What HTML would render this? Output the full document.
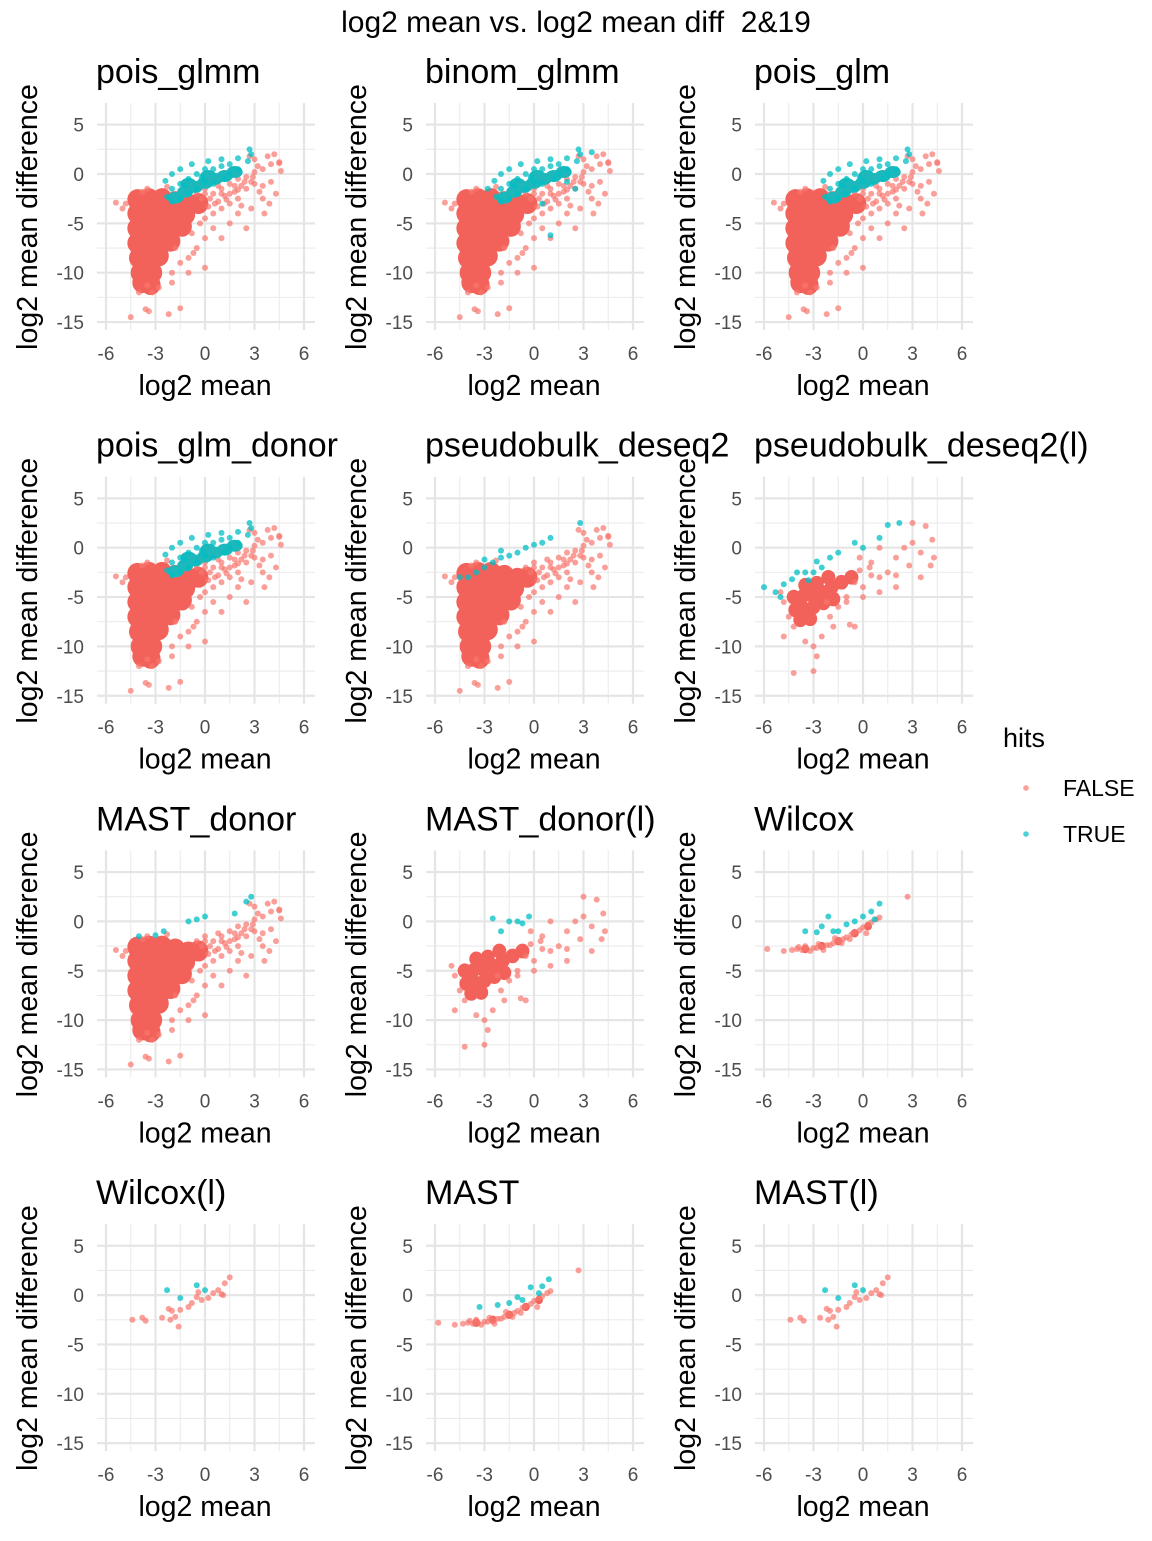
<!DOCTYPE html>
<html><head><meta charset="utf-8"><style>
body{margin:0;background:#fff}
svg text{font-family:"Liberation Sans",Arial,sans-serif}
</style></head><body>
<svg id="c" width="1152" height="1536" xmlns="http://www.w3.org/2000/svg">
<rect width="1152" height="1536" fill="#fff"/>
<text x="576" y="32" font-size="30" text-anchor="middle" fill="#000">log2 mean vs. log2 mean diff&#160;&#160;2&amp;19</text>
<text x="1003" y="747" font-size="27" fill="#000">hits</text>
<circle cx="1026" cy="788" r="2.8" fill="#F8766D" opacity="0.7"/>
<text x="1063" y="796" font-size="23" fill="#000">FALSE</text>
<circle cx="1026" cy="834" r="2.8" fill="#00BFC4" opacity="0.7"/>
<text x="1063" y="842" font-size="23" fill="#000">TRUE</text>
</svg>
<script>
const xTicks=[-6,-3,0,3,6];
const yTicks=[5,0,-5,-10,-15];
const panelNames=["pois_glmm","binom_glmm","pois_glm","pois_glm_donor","pseudobulk_deseq2","pseudobulk_deseq2(l)","MAST_donor","MAST_donor(l)","Wilcox","Wilcox(l)","MAST","MAST(l)"];
const coreA=[[-4.1,-2.6],[-3.4,-2.5],[-2.6,-2.5],[-1.8,-2.8],[-1,-3.1],[-0.4,-3],
 [-4.1,-4],[-3.4,-4],[-2.7,-4],[-1.9,-4],[-1.2,-4.1],
 [-4.1,-5.5],[-3.4,-5.5],[-2.7,-5.5],[-2,-5.4],[-1.4,-5.3],
 [-4.1,-7],[-3.4,-7],[-2.7,-7],[-2.1,-6.8],
 [-4,-8.5],[-3.4,-8.5],[-2.8,-8.3],
 [-3.9,-10],[-3.2,-10],[-3.8,-11],[-3.3,-11.2]];
const sparseA=[[-5.4,-2.9],[-5,-3.5],[-4.8,-3],[-3.5,-1.5],[-3.8,-1.8],[-2.3,-1.3],[0.5,-2],[1,-1.5],[1.5,-1],[2,-0.5],[2.5,-0.3],[3,0.2],[3.5,0.5],[4,1],[4.5,1.2],[3.8,1.8],[4.2,2],[3,1.5],[2.5,-1.5],[3,-1],[3.5,-1.2],[4,-0.8],[4.3,-2],[3.5,-2.5],[2,-2.5],[1.5,-3],[1,-3.5],[0.5,-4],[0,-4.5],[2,-4],[1.5,-5],[0.5,-5.5],[1,-6.5],[0,-6.5],[-0.5,-7.5],[-0.7,-8],[-1,-8.5],[0,-9.5],[-1.8,-7.5],[-1.5,-9],[-1,-10],[-2,-10],[-2.8,-11.5],[-3.2,-12],[-3.5,-11.3],[-4,-12],[-3.6,-13.7],[-3.4,-13.9],[-2.2,-14.2],[-1.5,-13.6],[-4.5,-14.5],[-2,-11],[2.8,-3.5],[3.6,-4],[2.2,-3.2],[1.2,-2.2],[0.2,-3.3],[-0.3,-5],[-0.8,-6],[4.6,0.3],[4.5,1.1],[2.7,1.8],[3.2,0.8],[1.8,-1.8],[3.9,-3],[2.5,-5.5],[0,-2],[0.8,-2.8],[1.5,-2],[2.2,-1.2],[2.8,-0.8],[-0.5,-2],[0,-1.5],[0.3,-2.5],[1,-2],[1.8,-1.2],[2.4,-0.8],[0.6,-3],[1.3,-2.6],[2,-1.6],[-0.2,-2.5],[0.8,-1.2],[2.9,-0.3],[3.3,-1.8]];
const trueGlmm=[[-2.3,-2.3],[-2,-1.5],[-1.5,-1],[-1,-0.5],[-0.5,0],[0,0.5],[0.5,0.5],[1,0.8],[1.5,1],[2,0.5],[2.7,2.5],[2.8,2],[2.6,1.3],[1.2,-0.5],[0.5,-1],[-0.5,-1.5],[-1,-2],[-1.5,-2.5],[-2,-2.8],[0,-0.8],[-1.2,-1.2],[-0.2,-0.3],[1.5,0],[1,1.5],[0.2,1.3],[-0.8,1],[-1.5,0.5],[-2,0],[-2.4,-0.7],[2,1.6]];
const trueGlmmCore=[[-1.8,-2.4],[-1.2,-1.8],[-0.6,-1.3],[0,-0.9],[0.6,-0.5],[1.2,-0.2],[1.8,0.2],[-1,-1],[0.2,-0.2]];
const trueBinomExtra=[[2.5,-1.5],[1,-6.2],[0.5,-3],[-2.8,-1.5],[3.5,2.2],[2,-0.8]];
const trueDeseq=[[-4.5,-3],[-4,-3],[-3.5,-2.5],[-3,-2],[-2.5,-1.5],[-2,-1],[-1.5,-0.8],[-1,-0.5],[-0.5,0],[0,0.3],[0.5,0.5],[1,1],[2.8,2.5],[-3,-1.2],[-2,-0.3]];
const trueMastDonor=[[-4,-1.5],[-2.5,-1],[-1,0],[0,0.5],[-0.5,0.2],[1.8,0.8],[2.8,2.5],[2.5,2],[-3,-1.4]];
const coreB=[[-4.2,-5],[-3.7,-5],[-3.1,-4.8],[-2.5,-4.5],[-1.9,-4],[-1.3,-3.5],[-0.7,-3],[-4.1,-6.3],[-3.6,-6.2],[-3,-6],[-2.4,-5.6],[-1.8,-5.2],[-3.8,-7.3],[-3.2,-7.2],[-3.5,-3.8],[-2.8,-3.6],[-2.1,-3]];
const sparseB=[[-5,-4.5],[-4.8,-5.5],[-4.5,-7],[-4.2,-8],[-4.8,-9],[-3.5,-9.5],[-4.2,-12.7],[-3,-10],[-2.5,-9],[-3,-12.5],[-2.8,-11],[-2,-7],[-1.5,-6],[-1,-5],[0,-4],[0,-5],[1,-3],[1.5,-2.5],[2,-1],[2.5,0],[3,0.5],[3,2.5],[3.8,2.2],[4.2,0.8],[4.3,-1],[3.5,-0.5],[2.8,-1.8],[2,-2.8],[1,-4.5],[-0.8,-7.8],[-0.5,-8],[0.5,-1.5],[1,0],[-0.2,-1],[2,-4],[3.5,-3],[4.1,-1.8],[-1,-5.5],[-1.8,-8],[-2.2,-5.5],[0.5,-2.8],[-0.2,-2.3],[0.4,-2],[-0.5,-3.5]];
const trueDeseqL=[[-6,-4],[-5.3,-4.5],[-5,-5],[-4.8,-3.7],[-4.3,-3.2],[-4,-2.5],[-3.5,-2.5],[-3,-2.5],[-2.5,-2],[-2,-1],[-1.5,-0.5],[-0.5,0.5],[0,0],[1,1],[1.5,2.3],[2.2,2.5],[-2.8,-1.4],[-3.3,-3.3]];
const trueMastDonorL=[[-2.5,0.3],[-1.5,0],[-1,0],[-0.7,-0.2],[-0.3,0.5],[-2,-1]];
const coreC=[[-3.5,-2.8],[-2.5,-2.5],[-1.5,-2],[-0.5,-1.2],[0.3,-0.5]];
const sparseC=[[-5.8,-2.8],[-4.8,-3],[-4.3,-2.9],[-4,-2.8],[-3.7,-2.9],[-3.4,-2.8],[-3.2,-3],[-3,-2.7],[-2.8,-2.7],[-2.5,-2.6],[-2.2,-2.4],[-2,-2.4],[-1.8,-2.2],[-1.5,-2],[-1.2,-1.8],[-1,-1.6],[-0.7,-1.3],[-0.5,-1.1],[-0.2,-0.9],[0,-0.6],[0.3,-0.3],[0.5,-0.1],[0.8,0.2],[1,0.4],[2.7,2.5],[-3.5,-2.5],[-2.7,-2.3],[-1.7,-1.7],[-0.8,-1.8],[0.2,-1.2],[-3.9,-2.6],[-2.4,-2.9],[-1.3,-2.2]];
const trueWilcox=[[-3.5,-1],[-2.5,-0.5],[-2.1,0.5],[-1.8,-1],[-1,-0.3],[-0.5,0],[0,0.5],[0.5,1],[1,1.8],[-1.5,-1],[0.7,0.2],[-2.8,-1.1]];
const trueMast=[[-3.3,-1.2],[-2.2,-1],[-1.5,-0.8],[-0.7,-0.5],[-0.2,0.8],[0.5,0.9],[0.9,1.6],[-1,-0.2],[0.3,0.2]];
const sparseD=[[-4.4,-2.5],[-3.8,-2.3],[-3.6,-2.6],[-2.6,-2.3],[-2.2,-1.4],[-2,-1.6],[-1.8,-2.2],[-1.5,-1.5],[-1.6,-3.2],[-1,-1.2],[-0.8,-0.8],[-0.5,-0.2],[-0.2,-0.5],[0.2,-0.3],[0.5,0.2],[0.8,0.5],[1,0.1],[1.2,1.2],[1.5,1.8],[1.1,0],[-2.1,-2.5],[-0.4,0.3]];
const trueD=[[-2.3,0.5],[-1.5,-0.3],[-0.5,1],[0,0.5]];

const panels=[
 {core:coreA,cr:10,f:sparseA,t:trueGlmm,tc:trueGlmmCore},
 {core:coreA,cr:10,f:sparseA,t:trueGlmm.concat(trueBinomExtra),tc:trueGlmmCore},
 {core:coreA,cr:10,f:sparseA,t:trueGlmm,tc:trueGlmmCore},
 {core:coreA,cr:10,f:sparseA,t:trueGlmm,tc:trueGlmmCore},
 {core:coreA,cr:10,f:sparseA,t:trueDeseq,tc:[]},
 {core:coreB,cr:7,f:sparseB,t:trueDeseqL,tc:[]},
 {core:coreA,cr:10,f:sparseA,t:trueMastDonor,tc:[]},
 {core:coreB,cr:7,f:sparseB,t:trueMastDonorL,tc:[]},
 {core:coreC,cr:4,f:sparseC,t:trueWilcox,tc:[]},
 {core:[],cr:0,f:sparseD,t:trueD,tc:[]},
 {core:coreC,cr:4,f:sparseC,t:trueMast,tc:[]},
 {core:[],cr:0,f:sparseD,t:trueD,tc:[]}
];
const svg=document.getElementById('c');
const NS='http://www.w3.org/2000/svg';
function mk(tag,attrs,parent){const e=document.createElementNS(NS,tag);for(const k in attrs)e.setAttribute(k,attrs[k]);parent.appendChild(e);return e;}
const XS=16.5, YS=9.87;
panels.forEach((p,i)=>{
 const col=i%3,row=Math.floor(i/3);
 const ox=col*329, oy=row*373.7;
 const sx=v=>ox+205+v*XS, sy=v=>oy+174-v*YS;
 const g=mk('g',{},svg);
 
 
 const L=ox+97,R=ox+315,T=oy+103,B=oy+330;
 [-4.5,-1.5,1.5,4.5].forEach(v=>{const l=mk('line',{x1:sx(v),x2:sx(v),y1:T,y2:B,stroke:'#ebebeb','stroke-width':1.1},g);});
 [2.5,-2.5,-7.5,-12.5].forEach(v=>{const l=mk('line',{x1:L,x2:R,y1:sy(v),y2:sy(v),stroke:'#ebebeb','stroke-width':1.1},g);});
 xTicks.forEach(v=>{const l=mk('line',{x1:sx(v),x2:sx(v),y1:T,y2:B,stroke:'#e5e5e5','stroke-width':2.2},g);
  const t=mk('text',{x:sx(v),y:oy+360,'font-size':19,'text-anchor':'middle',fill:'#4d4d4d'},g);t.textContent=v;});
 yTicks.forEach(v=>{const l=mk('line',{x1:L,x2:R,y1:sy(v),y2:sy(v),stroke:'#e5e5e5','stroke-width':2.2},g);
  const t=mk('text',{x:ox+84,y:sy(v)+7,'font-size':19,'text-anchor':'end',fill:'#4d4d4d'},g);t.textContent=v;});
 const tt=mk('text',{x:ox+96,y:oy+83,'font-size':34,fill:'#000'},g);tt.textContent=panelNames[i];
 
 
 const xt=mk('text',{x:ox+205,y:oy+395,'font-size':28.5,'text-anchor':'middle',fill:'#000'},g);xt.textContent='log2 mean';
 
 
 const yt=mk('text',{x:0,y:0,'font-size':28.5,'text-anchor':'middle',fill:'#000',transform:`translate(${ox+37},${oy+217}) rotate(-90)`},g);yt.textContent='log2 mean difference';
 
 
 p.core.forEach(d=>{const c=mk('ellipse',{cx:sx(d[0]),cy:sy(d[1]),rx:p.cr,ry:p.cr*1.05,fill:'#F2625A',opacity:1},g);});
 p.f.forEach(d=>{const c=mk('circle',{cx:sx(d[0]),cy:sy(d[1]),r:3,fill:'#F8766D',opacity:0.7},g);});
 p.tc.forEach(d=>{const c=mk('ellipse',{cx:sx(d[0]),cy:sy(d[1]),rx:8,ry:6,fill:'#1CB8BC',opacity:1},g);});
 p.t.forEach(d=>{const c=mk('circle',{cx:sx(d[0]),cy:sy(d[1]),r:3,fill:'#00BFC4',opacity:0.75},g);});
});
</script>
</body></html>
